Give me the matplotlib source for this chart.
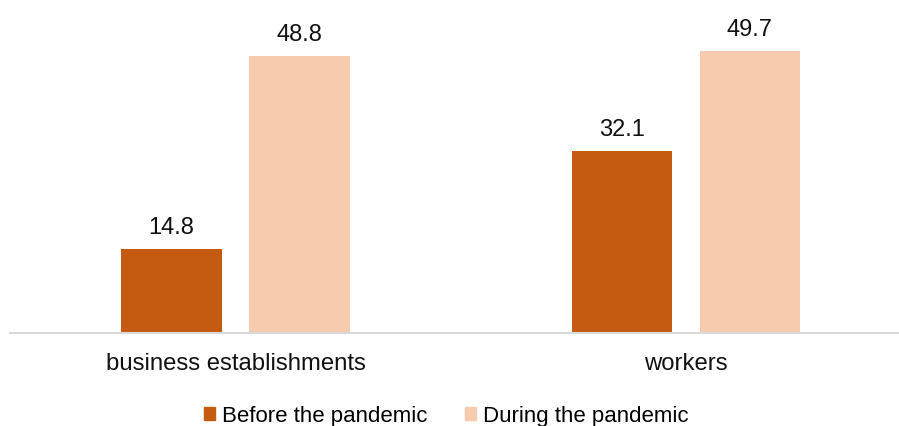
import numpy as np
import matplotlib.pyplot as plt
from matplotlib.patches import Patch

plt.rcParams['font.family'] = ['Liberation Sans', 'DejaVu Sans']

categories = ["business establishments", "workers"]
before = [14.8, 32.1]
during = [48.8, 49.7]
series_names = ["Before the pandemic", "During the pandemic"]
colors = ["#C55A11", "#F7CBAD"]

fig = plt.figure(figsize=(8.99, 4.27), dpi=100)
ax = fig.add_axes([10 / 899, 93 / 427, 889 / 899, 334 / 427])

x = np.arange(len(categories))
w = 0.224
off = 0.142
b1 = ax.bar(x - off, before, w, color=colors[0])
b2 = ax.bar(x + off, during, w, color=colors[1])

for bars, vals in [(b1, before), (b2, during)]:
    for r, v in zip(bars, vals):
        ax.text(r.get_x() + r.get_width() / 2, v + 1.9, "{:.1f}".format(v),
                ha="center", va="bottom", fontsize=17, color="#111111")

ax.set_xlim(-0.5006, 1.4728)
ax.set_ylim(0, 58.8)
ax.set_xticks(x)
ax.set_xticklabels(categories, fontsize=17.2, color="#111111")
ax.tick_params(axis="x", length=0, pad=14)
ax.set_yticks([])
for s in ["top", "right", "left"]:
    ax.spines[s].set_visible(False)
ax.spines["bottom"].set_color("#D9D9D9")
ax.spines["bottom"].set_linewidth(1.5)

handles = [Patch(color=c, label=n) for c, n in zip(colors, series_names)]
fig.legend(handles=handles, loc="center", bbox_to_anchor=(446.5 / 899, 10 / 427),
           ncol=2, frameon=False, fontsize=16, handlelength=0.5, handleheight=0.5,
           handletextpad=0.3, columnspacing=1.7, borderaxespad=0)

fig.savefig("out.png", dpi=100)
